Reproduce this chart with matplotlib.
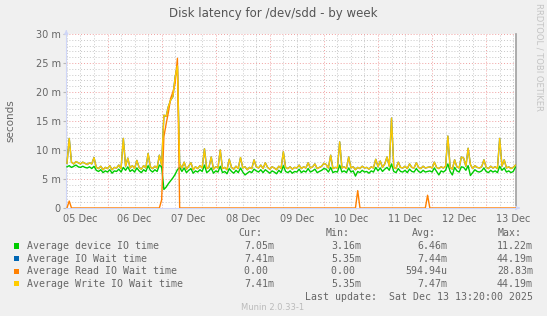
import numpy as np
import matplotlib
matplotlib.use('Agg')
import matplotlib.pyplot as plt
from matplotlib.patches import Rectangle

# hourly samples, hours counted from 05 Dec 00:00
hours = np.arange(6, 206)

write_wait = [
    7.7, 12.0, 7.9, 7.6, 8.0, 7.8, 7.6, 7.9, 7.7, 7.5, 7.8, 7.6, 8.7, 7.0, 6.8, 7.2, 6.6, 7.0,
    6.8, 7.3, 6.6, 7.0, 6.9, 7.4, 6.8, 12.0, 7.2, 8.6, 6.9, 7.3, 6.8, 8.2, 7.0, 6.7, 7.3, 6.9, 9.4, 7.1, 6.8, 7.2, 6.9, 9.1,
    7.4, 16.0, 15.8, 17.5, 18.6, 19.2, 22.6, 24.5, 7.6, 6.9, 7.9, 6.7, 7.2, 7.8, 6.6, 7.1, 6.8, 7.3, 6.9, 10.2, 6.8, 7.0, 8.8, 6.7,
    7.1, 6.9, 10.0, 6.8, 7.0, 6.6, 8.4, 7.0, 6.7, 7.2, 6.8, 8.7, 6.9, 7.1, 6.6, 7.0, 6.8, 8.3, 7.1, 6.9, 7.4, 6.8, 7.8, 7.0,
    6.7, 7.1, 6.9, 6.6, 7.2, 6.8, 9.7, 7.0, 6.8, 7.1, 6.7, 7.0, 6.9, 7.4, 6.8, 7.1, 6.9, 7.8, 6.9, 7.1, 7.6, 6.8, 7.0, 7.2,
    7.7, 7.5, 6.9, 9.1, 6.8, 7.0, 6.9, 11.4, 6.9, 7.1, 6.8, 8.8, 6.9, 7.1, 6.6, 7.0, 6.8, 7.2, 6.9, 7.0, 6.7, 7.1, 6.9, 8.4,
    7.1, 8.1, 7.0, 7.6, 8.8, 7.2, 15.5, 7.0, 6.8, 7.9, 7.0, 6.9, 7.2, 6.8, 7.6, 7.0, 6.9, 7.8, 7.0, 6.8, 7.2, 6.9, 7.0, 7.1,
    6.9, 7.9, 7.0, 6.8, 7.1, 6.9, 7.2, 12.4, 7.0, 6.7, 8.3, 7.1, 6.9, 8.8, 8.6, 7.2, 10.3, 7.5, 6.8, 7.3, 7.0, 6.9, 7.1, 8.3,
    7.0, 6.8, 7.2, 6.9, 7.1, 6.8, 12.0, 7.2, 8.3, 6.9, 7.1, 6.8, 7.0, 7.4,
]

device_time = [
    7.1, 7.3, 7.0, 7.2, 7.4, 7.1, 7.0, 7.2, 7.0, 6.9, 7.1, 6.8, 7.2, 6.5, 6.3, 6.6, 6.1, 6.4,
    6.2, 6.6, 6.0, 6.4, 6.3, 6.7, 6.2, 7.0, 6.5, 7.1, 6.3, 6.6, 6.2, 6.9, 6.4, 6.1, 6.6, 6.3, 7.3, 6.5, 6.2, 6.6, 6.3, 7.4,
    7.1, 3.2, 3.6, 4.2, 4.7, 5.2, 5.8, 6.6, 7.0, 6.3, 6.9, 6.1, 6.5, 6.8, 6.0, 6.4, 6.2, 6.6, 6.3, 7.4, 6.1, 6.4, 6.9, 6.0,
    6.4, 6.2, 7.2, 6.1, 6.3, 5.9, 6.8, 6.3, 6.0, 6.5, 6.1, 6.9, 6.2, 5.7, 6.0, 6.3, 6.1, 6.7, 6.4, 6.2, 6.6, 6.1, 6.6, 6.3,
    6.0, 6.4, 6.2, 5.9, 6.5, 6.1, 7.3, 6.3, 6.1, 6.4, 6.0, 6.3, 6.2, 6.7, 6.1, 6.4, 6.2, 6.8, 6.2, 6.4, 6.7, 6.1, 6.3, 6.5,
    6.8, 6.7, 6.2, 7.0, 6.1, 6.3, 6.2, 7.4, 6.2, 6.4, 6.1, 6.9, 6.2, 6.4, 5.5, 6.3, 6.1, 6.5, 6.2, 6.3, 6.0, 6.4, 6.2, 7.0,
    6.4, 6.9, 6.3, 6.7, 7.0, 6.5, 7.6, 6.3, 6.1, 6.8, 6.3, 6.2, 6.5, 6.1, 6.7, 6.3, 6.2, 6.8, 6.3, 6.1, 6.5, 6.2, 6.3, 6.4,
    6.2, 6.9, 6.3, 5.7, 6.4, 6.2, 6.5, 7.6, 6.3, 5.7, 7.0, 6.4, 6.2, 7.1, 7.0, 6.5, 7.3, 5.6, 6.1, 6.6, 6.3, 6.2, 6.4, 6.9,
    6.3, 6.1, 6.5, 6.2, 6.4, 6.1, 7.2, 6.5, 6.9, 6.2, 6.4, 6.1, 6.3, 7.05,
]

# read wait is zero except at these hours
read_hours = [7, 48, 49, 50, 51, 52, 53, 54, 55, 135, 166]
read_vals = [1.2, 1.4, 12.3, 14.5, 16.5, 18.9, 20.0, 21.5, 25.8, 3.0, 2.2]

read_wait = np.zeros(len(hours))
for h, v in zip(read_hours, read_vals):
    read_wait[h - 6] = v
io_wait = list(write_wait)  # IO wait sits under the write wait line

day_labels = ['05 Dec', '06 Dec', '07 Dec', '08 Dec', '09 Dec', '10 Dec', '11 Dec', '12 Dec', '13 Dec']

legend_names = ['Average device IO time', 'Average IO Wait time', 'Average Read IO Wait time', 'Average Write IO Wait time']
legend_colors = ['#00CC00', '#0066B3', '#FF8000', '#FFCC00']
cur_vals = ['7.05m', '7.41m', '0.00 ', '7.41m']
min_vals = ['3.16m', '5.35m', '0.00 ', '5.35m']
avg_vals = ['6.46m', '7.44m', '594.94u', '7.47m']
max_vals = ['11.22m', '44.19m', '28.83m', '44.19m']

W, H = 547, 316
font_col = '#666666'
axis_col = '#CFD6F8'

fig = plt.figure(figsize=(W / 100, H / 100), dpi=100, facecolor='#F0F0F0')

def fx(x):
    return x / W

def fy(y):
    return 1 - y / H

left, right, top, bottom = 66.3, 515.7, 34, 208
ax = fig.add_axes([fx(left), fy(bottom), (right - left) / W, (bottom - top) / H])
ax.set_facecolor('white')

ax.set_xlim(5.7, 205.1)
ax.set_ylim(0, 30)

# grid
for h in range(6, 206, 6):
    if h % 24 == 0:
        ax.axvline(h, color='#F0A0A0', lw=0.7, ls=(0, (1, 2)), zorder=1)
    else:
        ax.axvline(h, color='#C8C8C8', lw=0.7, ls=(0, (1, 2)), zorder=1)
for v in range(1, 31):
    if v % 5 == 0:
        ax.axhline(v, color='#F0A0A0', lw=0.7, ls=(0, (1, 2)), zorder=1)
    else:
        ax.axhline(v, color='#C8C8C8', lw=0.7, ls=(0, (1, 2)), zorder=1)

lw = 1.0
ax.plot(hours, device_time, color=legend_colors[0], lw=lw, zorder=3)
ax.plot(hours, io_wait, color=legend_colors[1], lw=lw, zorder=4)
ax.plot(hours, read_wait, color=legend_colors[2], lw=lw, zorder=5)
ax.plot(hours, write_wait, color=legend_colors[3], lw=lw, zorder=6)

ax.set_xticks([12 + 24 * i for i in range(len(day_labels))])
ax.set_xticklabels(day_labels)
ax.set_yticks(range(0, 31, 5))
ax.set_yticklabels(['0'] + ['%d m' % v for v in range(5, 31, 5)])
ax.tick_params(axis='both', labelsize=7, colors=font_col, length=0, pad=3)
ax.tick_params(axis='y', length=2, color='#B8B8B8', pad=2)
ax.tick_params(axis='x', pad=4)

for s in ['top']:
    ax.spines[s].set_visible(False)
ax.spines['left'].set_color(axis_col)
ax.spines['bottom'].set_color(axis_col)
ax.spines['right'].set_color('#A0A0A0')
ax.spines['right'].set_linewidth(1.2)

# axis arrows
ax.annotate('', xy=(0, 1.04), xytext=(0, 1.0), xycoords='axes fraction',
            arrowprops=dict(arrowstyle='-|>', color=axis_col, lw=0.8, mutation_scale=6))
ax.annotate('', xy=(1.016, 0), xytext=(1.0, 0), xycoords='axes fraction',
            arrowprops=dict(arrowstyle='-|>', color=axis_col, lw=0.8, mutation_scale=6))

fig.text(fx(273), fy(13), 'Disk latency for /dev/sdd - by week', ha='center', va='center',
         fontsize=8.5, color='#555555')
fig.text(fx(10), fy(121), 'seconds', rotation=90, ha='center', va='center', fontsize=7.5, color=font_col)
fig.text(fx(538.5), fy(57), 'RRDTOOL / TOBI OETIKER', rotation=270, ha='center', va='center',
         fontsize=6, color='#C4C4C4')

mono = 'DejaVu Sans Mono'
fs = 7.1
hy = 233
for label, xl in zip(['Cur:', 'Min:', 'Avg:', 'Max:'], [238, 325.5, 411.7, 498]):
    fig.text(fx(xl), fy(hy), label, family=mono, fontsize=fs, color=font_col, va='center')

for i in range(4):
    y = 246 + i * 12.6
    fig.patches.append(Rectangle((fx(14), fy(y + 2.6)), 5.2 / W, 5.2 / H, transform=fig.transFigure,
                                 facecolor=legend_colors[i], edgecolor='none'))
    fig.text(fx(26.9), fy(y), legend_names[i], family=mono, fontsize=fs, color=font_col, va='center')
    for vals, xr in zip([cur_vals, min_vals, avg_vals, max_vals], [274, 361, 447, 533]):
        fig.text(fx(xr), fy(y), vals[i], family=mono, fontsize=fs, color=font_col, va='center', ha='right')

fig.text(fx(533), fy(297), 'Last update:  Sat Dec 13 13:20:00 2025', family=mono, fontsize=fs,
         color=font_col, va='center', ha='right')
fig.text(fx(273), fy(308), 'Munin 2.0.33-1', fontsize=6, color='#BBBBBB', va='center', ha='center')

fig.savefig('out.png', dpi=100, facecolor=fig.get_facecolor())
